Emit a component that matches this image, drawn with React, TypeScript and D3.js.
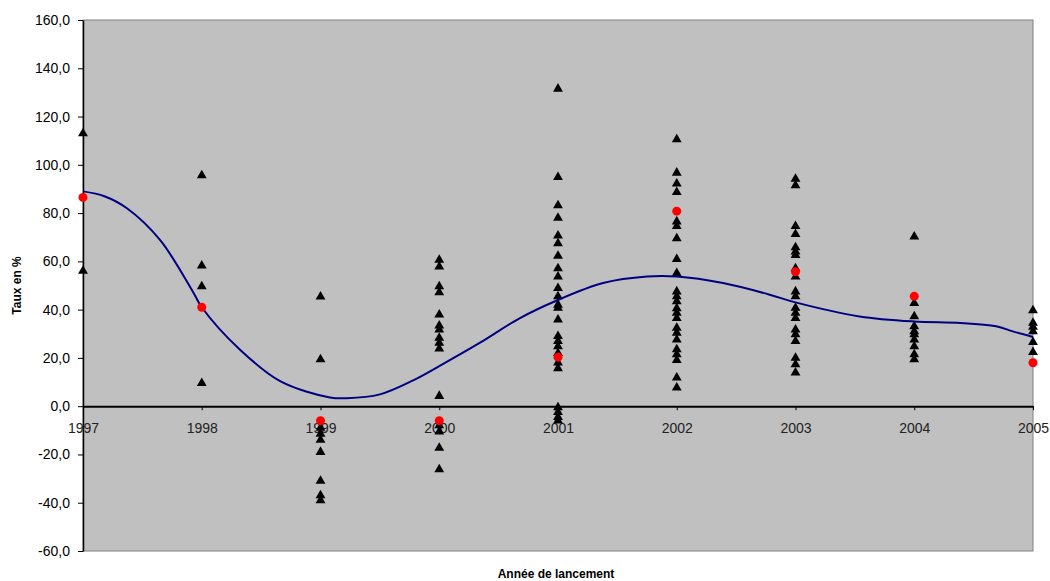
import React, { useEffect, useRef } from "react";
import * as d3 from "d3";

// years on the x axis
const years = [1997, 1998, 1999, 2000, 2001, 2002, 2003, 2004, 2005];

// individual rates per launch year (triangles)
const rates1997 = [113, 56];
const rates1998 = [95.6, 58.2, 49.6, 9.5];
const rates1999 = [45.4, 19.4, -9, -11.5, -14, -19, -31, -37, -39];
const rates2000 = [60.6, 57.8, 49.6, 47.1, 37.9, 33.4, 31.7, 28.3, 26.2, 23.8, 4.2, -8, -10.6, -17.3, -26.2];
const rates2001 = [131.5, 94.9, 83.2, 78, 70.6, 67.4, 62.3, 57.1, 53.7, 48.9, 45.5, 42, 40.7, 35.8, 29, 26.9, 24.8, 22, 18, 15.7, -0.5, -2.5, -4.5, -6];
const rates2002 = [110.5, 96.7, 92.2, 88.7, 76.5, 74.6, 69.5, 60.9, 55.1, 47.5, 45.5, 43.4, 40.5, 38.6, 36.5, 32.4, 30.4, 27.6, 23.5, 21.4, 19.1, 11.8, 7.7];
const rates2003 = [94.2, 91.5, 74.6, 71.3, 65.8, 64, 62.6, 57.1, 53.7, 47.5, 45.5, 40.7, 38.6, 36.5, 31.7, 29.7, 26.9, 20, 17.3, 13.9];
const rates2004 = [70.2, 42.7, 37.2, 33.1, 31, 29.7, 27.6, 24.8, 21.4, 19.4];
const rates2005 = [39.7, 34.5, 32.8, 31, 26.5, 22.4];
const allRates = [rates1997, rates1998, rates1999, rates2000, rates2001, rates2002, rates2003, rates2004, rates2005];

// yearly average (red dots)
const means = [86.5, 41, -6, -6, 20.3, 80.8, 55.7, 45.5, 18];

// trend curve
const trendX = [1997, 1997.18, 1997.37, 1997.65, 1997.93, 1998, 1998.32, 1998.66, 1999.08, 1999.22, 1999.5, 1999.78, 2000, 2000.34, 2000.68, 2001, 2001.38, 2001.75, 2002, 2002.39, 2002.79, 2003, 2003.54, 2004, 2004.39, 2004.69, 2004.83, 2005];
const trendY = [89, 87, 82, 68.8, 47, 41, 23.5, 10.4, 3.6, 3.3, 4.9, 10.7, 16.6, 26.2, 36.5, 44, 51, 53.7, 53.7, 51, 46.1, 43, 37.2, 35.1, 34.5, 33.1, 31, 28.7];

const yTicks = [-60, -40, -20, 0, 20, 40, 60, 80, 100, 120, 140, 160];

export default function App() {
  const ref = useRef<SVGSVGElement>(null);

  useEffect(() => {
    const svg = d3.select(ref.current);
    svg.selectAll("*").remove();

    const left = 83, right = 1033, top = 20, bottom = 551;
    const x = d3.scaleLinear().domain([1997, 2005]).range([left, right]);
    const y = d3.scaleLinear().domain([-60, 160]).range([bottom, top]);
    const font = "'Liberation Sans', Arial, sans-serif";

    // plot area
    svg.append("rect")
      .attr("x", left).attr("y", top)
      .attr("width", right - left).attr("height", bottom - top)
      .attr("fill", "#c0c0c0")
      .attr("stroke", "#808080")
      .attr("stroke-width", 1);

    // y axis
    const yAxis = svg.append("g").attr("transform", `translate(${left},0)`)
      .call(d3.axisLeft(y).tickValues(yTicks).tickSize(5).tickSizeOuter(0)
        .tickFormat((d) => d3.format(".1f")(d as number).replace(".", ",").replace("\u2212", "-")));
    yAxis.select(".domain").attr("stroke", "#000").attr("stroke-width", 1.5);
    yAxis.selectAll(".tick line").attr("stroke", "#000");
    yAxis.selectAll("text")
      .attr("font-family", font).attr("font-size", 14).attr("fill", "#000").attr("x", -13);

    // x axis on the zero line
    const xAxis = svg.append("g").attr("transform", `translate(0,${y(0)})`)
      .call(d3.axisBottom(x).tickValues(years).tickSize(4).tickSizeOuter(0)
        .tickFormat((d) => String(d)));
    xAxis.select(".domain").attr("stroke", "#000").attr("stroke-width", 2);
    xAxis.selectAll(".tick line").attr("stroke", "#000");
    xAxis.selectAll("text")
      .attr("font-family", font).attr("font-size", 14).attr("fill", "#222")
      .attr("y", 17).attr("dy", "0.71em");

    // triangles
    const tri = d3.symbol().type(d3.symbolTriangle).size(42);
    allRates.forEach((vals, i) => {
      svg.append("g").selectAll("path").data(vals).enter().append("path")
        .attr("d", tri)
        .attr("transform", (v) => `translate(${x(years[i])},${y(v)})`)
        .attr("fill", "#000");
    });

    // trend curve
    const line = d3.line<number>()
      .x((d, i) => x(trendX[i]))
      .y((d) => y(d))
      .curve(d3.curveCatmullRom.alpha(0.5));
    svg.append("path")
      .datum(trendY)
      .attr("d", line)
      .attr("fill", "none")
      .attr("stroke", "#000080")
      .attr("stroke-width", 2);

    // means
    svg.append("g").selectAll("circle").data(means).enter().append("circle")
      .attr("cx", (d, i) => x(years[i]))
      .attr("cy", (d) => y(d))
      .attr("r", 4.5)
      .attr("fill", "#ff0000");

    // axis titles
    svg.append("text")
      .attr("transform", `translate(21,${(top + bottom) / 2}) rotate(-90)`)
      .attr("text-anchor", "middle")
      .attr("font-family", font).attr("font-size", 12).attr("font-weight", "bold")
      .text("Taux en %");
    svg.append("text")
      .attr("x", 556).attr("y", 578)
      .attr("text-anchor", "middle")
      .attr("font-family", font).attr("font-size", 12).attr("font-weight", "bold")
      .text("Année de lancement");
  }, []);

  return (
    <svg ref={ref} width={1050} height={581}
      style={{ position: "absolute", left: 0, top: 0, background: "#fff" }} />
  );
}
